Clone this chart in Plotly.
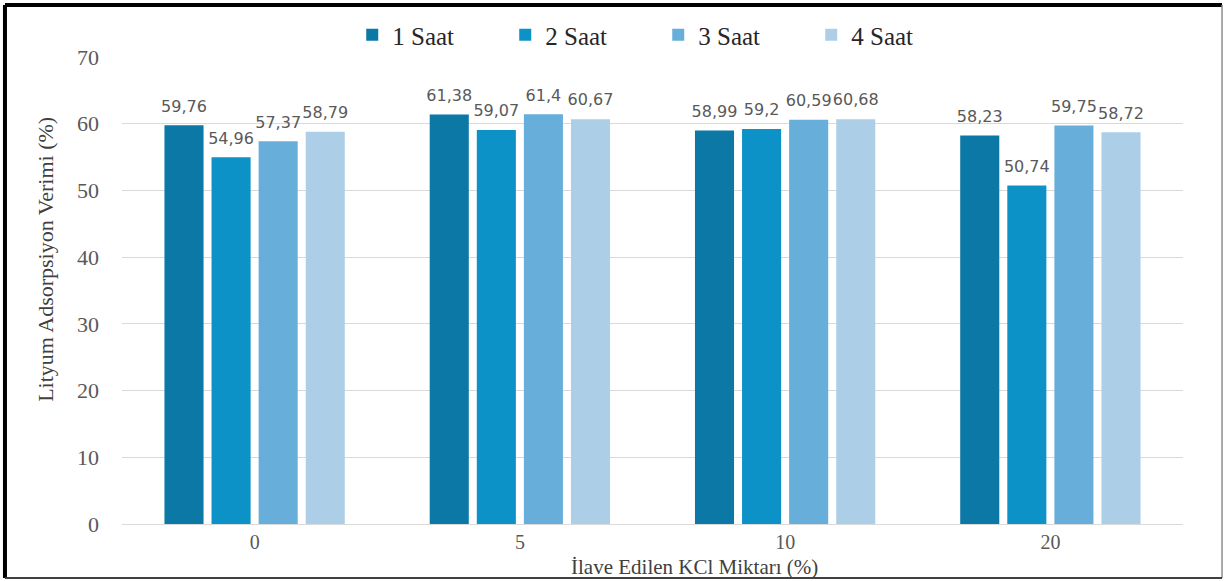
import plotly.graph_objects as go

# KCl additions (%) on the x axis
categories = ["0", "5", "10", "20"]

# Lithium adsorption yield (%) per contact time
series_names = ["1 Saat", "2 Saat", "3 Saat", "4 Saat"]
saat_1 = [59.76, 61.38, 58.99, 58.23]
saat_2 = [54.96, 59.07, 59.2, 50.74]
saat_3 = [57.37, 61.4, 60.59, 59.75]
saat_4 = [58.79, 60.67, 60.68, 58.72]
series_values = [saat_1, saat_2, saat_3, saat_4]

colors = ["#0B78A6", "#0C92C7", "#68AEDA", "#ADCEE7"]

y_ticks = [0, 10, 20, 30, 40, 50, 60, 70]

fig = go.Figure()

for name, vals, col in zip(series_names, series_values, colors):
    fig.add_trace(go.Bar(
        name=name, x=categories, y=vals,
        marker=dict(color=col, line=dict(width=0)),
        offsetgroup=name, alignmentgroup="g",
    ))

# value labels, grouped the same way as the bars; the hidden marker
# keeps the text a little above the bar top
for name, vals in zip(series_names, series_values):
    fig.add_trace(go.Scatter(
        x=categories, y=vals, mode="markers+text",
        marker=dict(size=14, opacity=0),
        text=[f"{v:g}".replace(".", ",") for v in vals],
        textposition="top center",
        textfont=dict(family="DejaVu Sans", size=16, color="#595959"),
        offsetgroup=name, alignmentgroup="g",
        showlegend=False, hoverinfo="skip", cliponaxis=False,
    ))

# outer frame
frame = [
    (-0.1103, 1.1113, -0.1103, -0.1156, "#000000", 4),
    (-0.1103, 1.1113, 1.0368, 1.1113, "#000000", 4),
    (1.0368, 1.1113, 1.0368, -0.1156, "#8C8C8C", 1.5),
    (-0.1103, -0.1156, 1.0368, -0.1156, "#404040", 2),
]
for x0, y0, x1, y1, c, w in frame:
    fig.add_shape(type="line", xref="paper", yref="paper",
                  x0=x0, y0=y0, x1=x1, y1=y1, line=dict(color=c, width=w))

fig.add_annotation(
    text="İlave Edilen KCl Miktarı (%)", xref="paper", yref="paper",
    x=0.54, y=-0.093, showarrow=False, xanchor="center", yanchor="middle",
    font=dict(family="Liberation Serif", size=21, color="#404040"),
)
fig.add_annotation(
    text="Lityum Adsorpsiyon Verimi (%)", xref="paper", yref="paper",
    x=-0.072, y=0.567, showarrow=False, xanchor="center", yanchor="middle",
    textangle=-90,
    font=dict(family="Liberation Serif", size=22, color="#404040"),
)

fig.update_layout(
    width=1225, height=581,
    margin=dict(l=122, r=42, t=57, b=57),
    paper_bgcolor="white", plot_bgcolor="white",
    barmode="group", bargap=0.29, bargroupgap=0.17,
    scattermode="group", scattergap=0.29,
    showlegend=True,
    legend=dict(
        orientation="h", x=0.217, xanchor="left", y=1.047, yanchor="middle",
        font=dict(family="Liberation Serif", size=25, color="#262626"),
        entrywidth=108, traceorder="normal",
    ),
    xaxis=dict(
        type="category", showgrid=False, showline=False, ticks="",
        ticklabelstandoff=4,
        tickfont=dict(family="Liberation Serif", size=20, color="#595959"),
    ),
    yaxis=dict(
        range=[0, 70], tickvals=y_ticks, showgrid=True, gridcolor="#D9D9D9",
        gridwidth=1, zeroline=True, zerolinecolor="#D9D9D9", zerolinewidth=1,
        showline=False, ticks="", ticklabelstandoff=22,
        tickfont=dict(family="Liberation Serif", size=22, color="#595959"),
    ),
)

fig.write_html("out.html")
